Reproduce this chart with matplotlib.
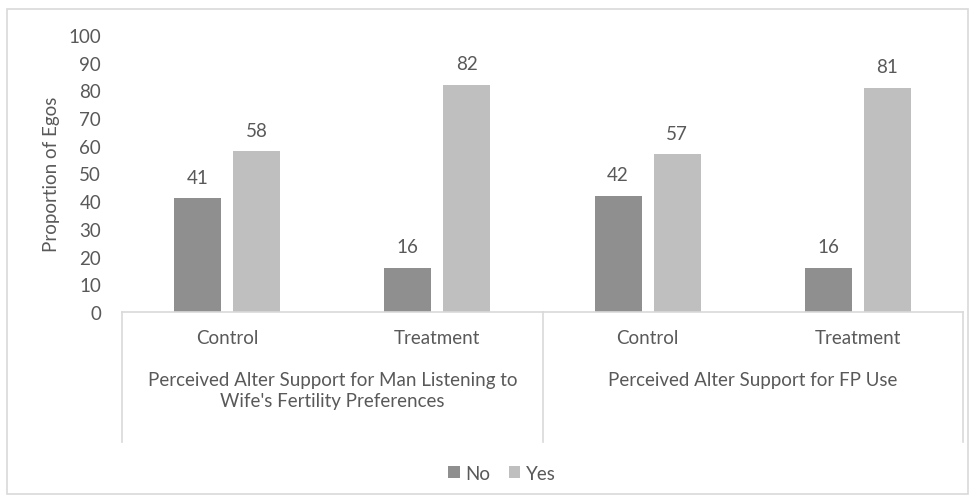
import numpy as np
import matplotlib.pyplot as plt
from matplotlib.patches import Rectangle
from matplotlib.lines import Line2D
import matplotlib.transforms as mtransforms

groups = ["Perceived Alter Support for Man Listening to\nWife's Fertility Preferences",
          "Perceived Alter Support for FP Use"]
arms = ['Control', 'Treatment', 'Control', 'Treatment']
no_vals = [41, 16, 42, 16]
yes_vals = [58, 82, 57, 81]

plt.rcParams['font.family'] = ['Lato', 'DejaVu Sans']
txt = '#595959'
grid_c = '#d9d9d9'
c_no = '#8f8f8f'
c_yes = '#bfbfbf'
fs = 13.5

W, H = 976, 502
fig = plt.figure(figsize=(W / 100, H / 100), dpi=100)

def fx(px):
    return px / W

def fy(py):
    return 1 - py / H

ax = fig.add_axes([fx(122), fy(313), fx(963) - fx(122), fy(36) - fy(313)])
ax.set_xlim(0, 4)
ax.set_ylim(0, 100)

x = np.arange(4) + 0.5
bw = 47 / 210.25
gap = 12 / 210.25
b1 = ax.bar(x - (bw + gap) / 2, no_vals, bw, color=c_no, label='No')
b2 = ax.bar(x + (bw + gap) / 2, yes_vals, bw, color=c_yes, label='Yes')
for bars in (b1, b2):
    for r in bars:
        ax.annotate(str(int(r.get_height())), (r.get_x() + r.get_width() / 2, r.get_height()),
                    xytext=(0, 9), textcoords='offset points', ha='center', va='bottom',
                    fontsize=fs, color=txt)

for s in ['top', 'right', 'left']:
    ax.spines[s].set_visible(False)
ax.spines['bottom'].set_color(grid_c)
ax.spines['bottom'].set_linewidth(1.2)
ax.set_xticks([])
ax.set_yticks(range(0, 101, 10))
ax.tick_params(axis='y', length=0, pad=15, labelsize=fs, labelcolor=txt)
ax.set_ylabel('Proportion of Egos', fontsize=fs, color=txt, labelpad=6)

# category axis box
for px in (122, 543, 963):
    fig.add_artist(Line2D([fx(px), fx(px)], [fy(313), fy(443)], color=grid_c, lw=1.2))

trans = mtransforms.blended_transform_factory(ax.transData, fig.transFigure)
for xi, lab in zip(x, arms):
    ax.text(xi, fy(339), lab, transform=trans, ha='center', va='center', fontsize=fs, color=txt)
for gi, lab in enumerate(groups):
    ax.text(1 + 2 * gi, fy(372), lab, transform=trans, ha='center', va='top',
            fontsize=fs, color=txt, linespacing=1.25)

# outer border
fig.add_artist(Rectangle((fx(7), fy(495)), fx(968) - fx(7), fy(10) - fy(495),
                         transform=fig.transFigure, fill=False, ec=grid_c, lw=1.2))

fig.legend(handles=[b1, b2], labels=['No', 'Yes'], loc='center', bbox_to_anchor=(fx(502), fy(474)),
           ncol=2, frameon=False, fontsize=fs, labelcolor=txt, handlelength=0.6,
           handleheight=0.6, handletextpad=0.3, columnspacing=1.0)

fig.savefig('out.png', dpi=100)
